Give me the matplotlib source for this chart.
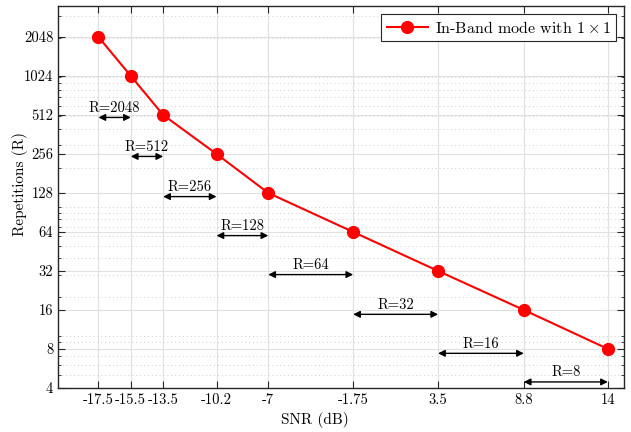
import matplotlib
matplotlib.use("Agg")
import matplotlib.pyplot as plt
from matplotlib.ticker import FixedLocator, LogLocator, NullFormatter

plt.rcParams['font.family'] = ['cmr10', 'DejaVu Serif']
plt.rcParams['mathtext.fontset'] = 'cm'
plt.rcParams['axes.unicode_minus'] = False

snr = [-17.5, -15.5, -13.5, -10.2, -7, -1.75, 3.5, 8.8, 14]
reps = [2048, 1024, 512, 256, 128, 64, 32, 16, 8]
xtick_labels = ['-17.5', '-15.5', '-13.5', '-10.2', '-7', '-1.75', '3.5', '8.8', '14']
yticks = [4, 8, 16, 32, 64, 128, 256, 512, 1024, 2048]

arrow_x0 = [-17.5, -15.5, -13.5, -10.2, -7, -1.75, 3.5, 8.8]
arrow_x1 = [-15.5, -13.5, -10.2, -7, -1.75, 3.5, 8.8, 14]
arrow_y = [490, 245, 120, 60, 30, 14.8, 7.4, 4.45]
arrow_labels = ['R=2048', 'R=512', 'R=256', 'R=128', 'R=64', 'R=32', 'R=16', 'R=8']

fig = plt.figure(figsize=(6.31, 4.32), dpi=100)
ax = fig.add_axes([0.092, 0.102, 0.897, 0.884])

ax.set_yscale('log', base=2)
ax.set_xlim(-20, 15)
ax.set_ylim(4, 3550)

ax.grid(True, which='major', color='#e0e0e0', linewidth=0.8, linestyle='-')
ax.grid(True, which='minor', axis='y', color='#cfcfcf', linewidth=0.7, linestyle=(0, (1, 3)))
ax.set_axisbelow(True)

ax.plot(snr, reps, color='#ff0000', linewidth=1.5, marker='o', markersize=8.5,
        markerfacecolor='#ff0000', markeredgecolor='#ff0000',
        label=r'In-Band mode with $1\times1$', zorder=3)

for x0, x1, y, lab in zip(arrow_x0, arrow_x1, arrow_y, arrow_labels):
    ax.annotate('', xy=(x1, y), xytext=(x0, y),
                arrowprops=dict(arrowstyle='<|-|>,head_length=0.4,head_width=0.2',
                                color='black', lw=1.0, shrinkA=0, shrinkB=0),
                zorder=4)
    ax.annotate(lab, xy=((x0 + x1) / 2, y), xytext=(0, 2), textcoords='offset points',
                ha='center', va='bottom', fontsize=10.5, zorder=4)

ax.xaxis.set_major_locator(FixedLocator(snr))
ax.set_xticklabels(xtick_labels)
ax.yaxis.set_major_locator(FixedLocator(yticks))
ax.set_yticklabels([str(v) for v in yticks])
ax.yaxis.set_minor_locator(LogLocator(base=10, subs=range(1, 10), numticks=20))
ax.yaxis.set_minor_formatter(NullFormatter())

ax.tick_params(which='both', direction='in', top=True, right=True, labelsize=10.5,
               color='#262626')
ax.tick_params(which='major', length=5, width=0.8)
ax.tick_params(which='minor', length=2.5, width=0.6)
for s in ax.spines.values():
    s.set_color('#262626')
    s.set_linewidth(1.0)

ax.set_xlabel('SNR (dB)', fontsize=11)
ax.set_ylabel('Repetitions (R)', fontsize=11)
ax.xaxis.set_label_coords(0.454, -0.063)
ax.yaxis.set_label_coords(-0.053, 0.534)

leg = ax.legend(loc='upper right', fontsize=11.5, frameon=True, fancybox=False,
                edgecolor='#262626', framealpha=1, borderpad=0.35, handlelength=2.6,
                handletextpad=0.4, borderaxespad=0.5)
leg.get_frame().set_linewidth(0.8)

fig.savefig('out.png', dpi=100)
